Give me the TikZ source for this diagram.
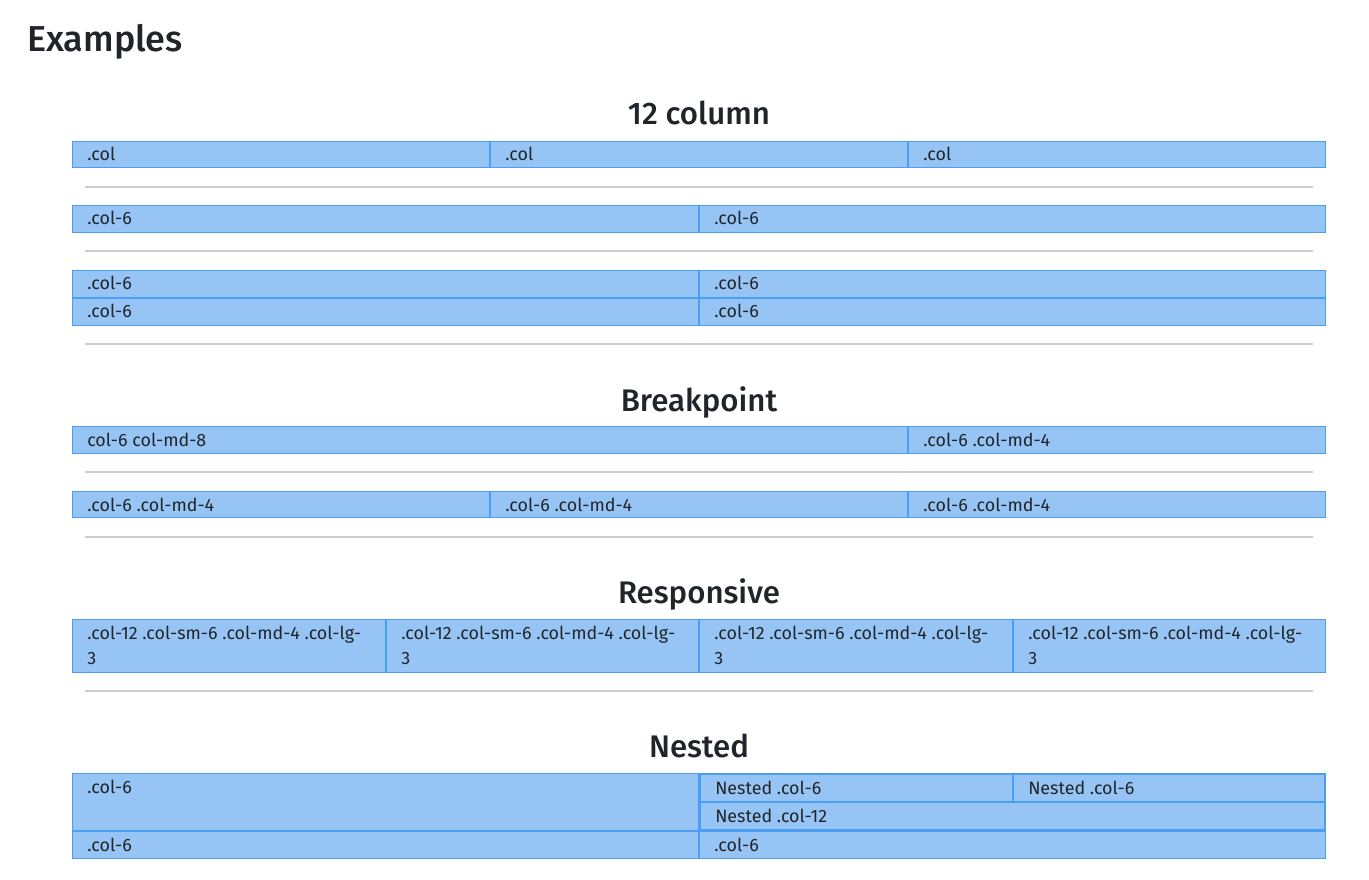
\documentclass[tikz,border=0pt]{standalone}
\usepackage{fontspec}
\setmainfont{Fira Sans}
\newfontfamily\headfont{Fira Sans Medium}
\definecolor{cellfill}{HTML}{96C5F5}
\definecolor{cellline}{HTML}{4A9FF5}
\definecolor{rulegray}{HTML}{CCCCCC}
\definecolor{ink}{HTML}{212529}

% one grid cell: name, x1, y1, x2, y2, label (pixel units)
\newcommand\gridcell[6]{%
  \node[cellbox, minimum width={((#4)-(#2)-0.8)*0.75pt},
        minimum height={((#5)-(#3)-0.8)*0.75pt}] (#1) at (#2+0.4,#3+0.4) {};
  \node[celltext] (#1-t) at (#2+15,#3+20) {#6};}
% horizontal separator between example blocks
\newcommand\seprule[2]{%
  \coordinate (#1-a) at (85,#2);
  \coordinate (#1-b) at (1313,#2);
  \draw[sep] (#1-a) -- (#1-b);}

\begin{document}
\begin{tikzpicture}[x=0.75pt,y=-0.75pt,
  cellbox/.style={draw=cellline, fill=cellfill, line width=1.25pt,
                  inner sep=0pt, outer sep=0pt, anchor=north west},
  celltext/.style={anchor=base west, inner sep=0pt, text=ink,
                   font=\fontsize{13.4}{18}\selectfont},
  heading/.style={anchor=base, inner sep=0pt, text=ink,
                  font=\headfont\fontsize{23.4}{26}\selectfont},
  sep/.style={draw=rulegray, line width=1pt}]
\useasboundingbox (0,0) rectangle (1369,880);
\fill[white] (0,0) rectangle (1369,880);

\node[anchor=base west, inner sep=0pt, text=ink,
      font=\headfont\fontsize{27}{30}\selectfont] (title) at (27,52) {Examples};

% 12 column
\node[heading] (h1) at (699,125) {12 column};
\gridcell{a1}{72}{141}{490}{168}{.col}
\gridcell{a2}{490}{141}{908}{168}{.col}
\gridcell{a3}{908}{141}{1326}{168}{.col}
\seprule{s1}{187}
\gridcell{b1}{72}{205}{699}{233}{.col-6}
\gridcell{b2}{699}{205}{1326}{233}{.col-6}
\seprule{s2}{251}
\gridcell{c1}{72}{270}{699}{298}{.col-6}
\gridcell{c2}{699}{270}{1326}{298}{.col-6}
\gridcell{c3}{72}{298}{699}{326}{.col-6}
\gridcell{c4}{699}{298}{1326}{326}{.col-6}
\seprule{s3}{344}

% Breakpoint
\node[heading] (h2) at (699,411) {Breakpoint};
\gridcell{d1}{72}{426}{908}{454}{col-6 col-md-8}
\gridcell{d2}{908}{426}{1326}{454}{.col-6 .col-md-4}
\seprule{s4}{472}
\gridcell{e1}{72}{491}{490}{518}{.col-6 .col-md-4}
\gridcell{e2}{490}{491}{908}{518}{.col-6 .col-md-4}
\gridcell{e3}{908}{491}{1326}{518}{.col-6 .col-md-4}
\seprule{s5}{537}

% Responsive
\node[heading] (h3) at (699,603) {Responsive};
\gridcell{f1}{72}{619}{386}{673}{.col-12 .col-sm-6 .col-md-4 .col-lg-}
\gridcell{f2}{386}{619}{699}{673}{.col-12 .col-sm-6 .col-md-4 .col-lg-}
\gridcell{f3}{699}{619}{1013}{673}{.col-12 .col-sm-6 .col-md-4 .col-lg-}
\gridcell{f4}{1013}{619}{1326}{673}{.col-12 .col-sm-6 .col-md-4 .col-lg-}
\node[celltext] (f1-u) at (87,664) {3};
\node[celltext] (f2-u) at (401,664) {3};
\node[celltext] (f3-u) at (714,664) {3};
\node[celltext] (f4-u) at (1028,664) {3};
\seprule{s6}{691}

% Nested
\node[heading] (h4) at (699,757) {Nested};
\gridcell{g1}{72}{773}{699}{831}{.col-6}
\gridcell{g2}{699}{773}{1326}{831}{}
\gridcell{g3}{700}{774}{1013}{802}{Nested .col-6}
\gridcell{g4}{1013}{774}{1325}{802}{Nested .col-6}
\gridcell{g5}{700}{802}{1325}{830}{Nested .col-12}
\gridcell{k1}{72}{831}{699}{859}{.col-6}
\gridcell{k2}{699}{831}{1326}{859}{.col-6}
\end{tikzpicture}
\end{document}
